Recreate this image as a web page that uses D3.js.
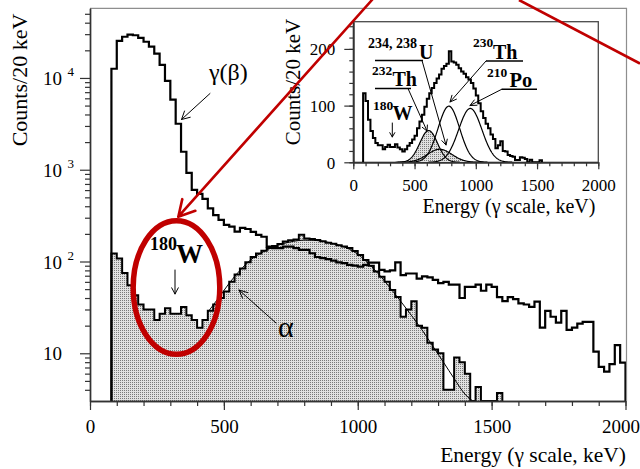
<!DOCTYPE html>
<html>
<head>
<meta charset="utf-8">
<script src="https://cdn.jsdelivr.net/npm/d3@7"></script>
<style>
  html, body { margin: 0; padding: 0; background: #fff; }
  svg { display: block; font-family: "Liberation Serif", "Times New Roman", serif; }
</style>
</head>
<body>
<svg id="chart" width="640" height="469"></svg>
<script>
// Spectra in 20 keV bins; lower bin edges start at 80 keV
const binWidth = 20;
const firstBin = 80;

// gamma(beta) events, counts per bin (80 ... 1980 keV)
const gammaCounts = [
  12600, 25400, 28100, 29600, 29200, 27400, 24800, 21900, 18400, 13900,
  9300, 5800, 3170, 1570, 925, 604, 546, 482, 380, 320,
  284, 251, 240, 212, 233, 226, 210, 195, 186, 145,
  140, 140, 145, 145, 140, 134, 134, 123, 112, 109,
  106, 102, 98, 96, 92, 90, 88, 92, 97, 97,
  81, 78, 80, 98, 71, 74, 74, 65, 69, 67,
  63, 58, 60, 56, 56, 40, 53, 53, 56, 48,
  56, 53, 41, 37, 41, 39, 35, 34, 32, 36.5,
  19, 29, 25, 21.6, 29, 18, 19, 21, 22, 22,
  10.4, 7.1, 6.3, 7.6, 12.3, 7.9
];

// alpha events, counts per bin (80 ... 1520 keV)
const alphaCounts = [
  122, 108, 75, 55, 43, 34, 30, 30, 23, 27,
  31, 27, 27, 32, 26, 23, 19, 23, 29, 34,
  40, 47, 60, 72, 84, 98, 112, 122, 131, 140,
  148, 155, 165, 170, 174, 196, 178, 176, 172, 166,
  160, 156, 150, 146, 140, 130, 118, 104, 90, 78,
  68, 60, 49, 41, 25, 30, 37, 20, 19, 13,
  11, 10, 4, 4, 9, 8, 6, 0, 4.3, 0,
  0, 0, 3.7
];

// fitted alpha spectrum shown on the log plot
const fitEnergy = [440, 480, 520, 560, 600, 640, 680, 720, 760, 800, 840, 880, 920,
                   960, 1000, 1040, 1080, 1120, 1160, 1200, 1240, 1280, 1320, 1360, 1400, 1430];
const fitCounts = [28, 40, 58, 80, 104, 124, 142, 156, 166, 171, 170, 164, 154,
                   140, 120, 95, 72, 52, 37, 26, 18, 12, 8, 5.3, 3.6, 2.9];

// alpha peak components of the inset fit
const componentCentre = [615, 705, 780, 955];   // keV
const componentHeight = [56, 23, 99, 95];       // counts/20 keV
const componentSigma  = [72, 100, 88, 95];      // keV
const componentShaded = [true, true, false, false];

// axis ticks
const mainXTicks = [0, 500, 1000, 1500, 2000];
const mainYTicks = [10, 100, 1000, 10000];
const mainYExponents = ["", "2", "3", "4"];
const insetXTicks = [0, 500, 1000, 1500, 2000];
const insetYTicks = [0, 100, 200];

const svg = d3.select("#chart");
const defs = svg.append("defs");
const pat = defs.append("pattern").attr("id", "stipple")
  .attr("width", 2).attr("height", 2).attr("patternUnits", "userSpaceOnUse");
pat.append("rect").attr("width", 2).attr("height", 2).attr("fill", "#e1e1e1");
pat.append("rect").attr("width", 1).attr("height", 1).attr("fill", "#7a7a7a");

// ---------- main (log) panel ----------
const x = d3.scaleLinear().domain([0, 2000]).range([90, 625.5]);
const yFloor = 3.02;
const y = d3.scaleLog().domain([yFloor, 57400]).range([401, 8.3]);
const yv = v => y(Math.max(v, yFloor));

function stepPoints(counts) {
  const pts = [[firstBin, 0]];
  counts.forEach((c, i) => pts.push([firstBin + i * binWidth, c]));
  const end = firstBin + counts.length * binWidth;
  pts.push([end, counts[counts.length - 1]]);
  pts.push([end, 0]);
  return pts;
}

const gammaPts = stepPoints(gammaCounts);
const alphaPts = stepPoints(alphaCounts);

const mainArea = d3.area().curve(d3.curveStepAfter)
  .x(d => x(d[0])).y0(y.range()[0]).y1(d => yv(d[1]));
const mainLine = d3.line().curve(d3.curveStepAfter)
  .x(d => x(d[0])).y(d => yv(d[1]));

svg.append("path").attr("d", mainArea(alphaPts)).attr("fill", "url(#stipple)");
svg.append("path").attr("d", mainLine(alphaPts))
  .attr("fill", "none").attr("stroke", "#000").attr("stroke-width", 2);

const fitLine = d3.line().curve(d3.curveMonotoneX)
  .x((d, i) => x(fitEnergy[i])).y((d, i) => yv(fitCounts[i]));
svg.append("path").attr("d", fitLine(fitEnergy))
  .attr("fill", "none").attr("stroke", "#000").attr("stroke-width", 1);

svg.append("path").attr("d", mainLine(gammaPts))
  .attr("fill", "none").attr("stroke", "#000").attr("stroke-width", 2.2);

// frame: light top/right edges
const [x0, x1] = x.range();
const [yb, yt] = y.range();
svg.append("path").attr("d", `M${x0},${yt}H${x1 + 1}V${yb}`)
  .attr("fill", "none").attr("stroke", "#8e8e8e").attr("stroke-width", 1.2);

// x axis
function styleAxis(g, color) {
  g.select(".domain").attr("stroke", color).attr("stroke-width", 1.4);
  g.selectAll(".tick line").attr("stroke", color).attr("stroke-width", 1.2);
}
const gxMinor = svg.append("g").attr("transform", `translate(0,${yb})`)
  .call(d3.axisBottom(x).tickValues(d3.range(0, 2001, 100)).tickSize(5).tickSizeOuter(0).tickFormat(""));
styleAxis(gxMinor, "#333");
const gx = svg.append("g").attr("transform", `translate(0,${yb})`)
  .call(d3.axisBottom(x).tickValues(mainXTicks).tickSize(9).tickSizeOuter(0).tickFormat(d3.format("d")));
styleAxis(gx, "#333");
gx.selectAll(".tick text").attr("y", 32).attr("dy", 0)
  .attr("font-size", 19).attr("fill", "#000").attr("font-family", "Liberation Serif");
// keep the last label inside the page edge
gx.selectAll(".tick text").filter(d => d === 2000)
  .attr("text-anchor", "end").attr("x", 639.5 - x(2000));

// y axis
const minorY = [];
for (let d = 0; d <= 4; d++) for (let k = 2; k <= 9; k++) {
  const v = k * Math.pow(10, d);
  if (v >= yFloor && v <= y.domain()[1]) minorY.push(v);
}
const gyMinor = svg.append("g").attr("transform", `translate(${x0},0)`)
  .call(d3.axisLeft(y).tickValues(minorY).tickSize(5).tickSizeOuter(0).tickFormat(""));
styleAxis(gyMinor, "#333");
const gy = svg.append("g").attr("transform", `translate(${x0},0)`)
  .call(d3.axisLeft(y).tickValues(mainYTicks).tickSize(10).tickSizeOuter(0).tickFormat(""));
styleAxis(gy, "#333");
mainYTicks.forEach((v, i) => {
  svg.append("text").attr("x", 62).attr("y", y(v) + 7).attr("text-anchor", "end")
    .attr("font-size", 19).text("10");
  if (mainYExponents[i]) {
    svg.append("text").attr("x", 67.5).attr("y", y(v) - 1.5)
      .attr("font-size", 13).text(mainYExponents[i]);
  }
});

svg.append("text").attr("transform", "translate(27,80) rotate(-90)")
  .attr("text-anchor", "middle").attr("font-size", 22).text("Counts/20 keV");
svg.append("text").attr("x", 626).attr("y", 461.5).attr("text-anchor", "end")
  .attr("font-size", 21.5).text("Energy (\u03B3 scale, keV)");

// annotation arrows
function arrow(g, ax, ay, bx, by, opt = {}) {
  const head = opt.head || 8, spread = (opt.spread || 25) * Math.PI / 180;
  const a = Math.atan2(ay - by, ax - bx);
  const p = d3.path();
  p.moveTo(ax, ay); p.lineTo(bx, by);
  p.moveTo(bx + head * Math.cos(a + spread), by + head * Math.sin(a + spread));
  p.lineTo(bx, by);
  p.lineTo(bx + head * Math.cos(a - spread), by + head * Math.sin(a - spread));
  g.append("path").attr("d", p.toString()).attr("fill", "none")
    .attr("stroke", opt.color || "#000").attr("stroke-width", opt.width || 1)
    .attr("stroke-linecap", "round").attr("stroke-linejoin", "round");
}

svg.append("text").attr("x", 209).attr("y", 80).attr("font-size", 24).text("\u03B3(\u03B2)");
arrow(svg, 210, 93.5, 181.5, 119.5, { head: 9, spread: 28 });

svg.append("text").attr("x", 150).attr("y", 250).attr("font-size", 18).attr("font-weight", "bold").text("180");
svg.append("text").attr("x", 176).attr("y", 263).attr("font-size", 27).attr("font-weight", "bold").text("W");
arrow(svg, 175, 270, 175, 294, { head: 7, spread: 28 });

svg.append("text").attr("x", 278).attr("y", 337).attr("font-size", 30).text("\u03B1");
arrow(svg, 276, 323, 239, 290, { head: 9, spread: 25 });

// ---------- inset (linear) panel ----------
const xi = d3.scaleLinear().domain([0, 2000]).range([353.3, 598.3]);
const yi = d3.scaleLinear().domain([0, 248]).range([162.3, 21.7]);
const [xi0, xi1] = xi.range();
const [yi0, yi1] = yi.range();
const inset = svg.append("g");

inset.append("rect").attr("x", xi0).attr("y", yi1).attr("width", xi1 - xi0).attr("height", yi0 - yi1)
  .attr("fill", "#fff").attr("stroke", "#4a4a4a").attr("stroke-width", 1.3);

function gaussPts(i) {
  const c = componentCentre[i], h = componentHeight[i], s = componentSigma[i];
  const pts = [];
  for (let e = c - 3.6 * s; e <= c + 3.6 * s; e += 4) pts.push([e, h * Math.exp(-0.5 * ((e - c) / s) ** 2)]);
  return pts;
}
const insetArea = d3.area().x(d => xi(d[0])).y0(yi0).y1(d => yi(d[1]));
const insetCurve = d3.line().x(d => xi(d[0])).y(d => yi(d[1]));
componentCentre.forEach((c, i) => {
  if (componentShaded[i]) inset.append("path").attr("d", insetArea(gaussPts(i))).attr("fill", "url(#stipple)");
});
componentCentre.forEach((c, i) => {
  inset.append("path").attr("d", insetCurve(gaussPts(i)))
    .attr("fill", "none").attr("stroke", "#000").attr("stroke-width", 1.2);
});

const insetStep = d3.line().curve(d3.curveStepAfter).x(d => xi(d[0])).y(d => yi(d[1]));
inset.append("path").attr("d", insetStep(alphaPts))
  .attr("fill", "none").attr("stroke", "#000").attr("stroke-width", 2);

const gxiMinor = inset.append("g").attr("transform", `translate(0,${yi0})`)
  .call(d3.axisBottom(xi).tickValues(d3.range(0, 2001, 100)).tickSize(4).tickSizeOuter(0).tickFormat(""));
styleAxis(gxiMinor, "#333");
const gxi = inset.append("g").attr("transform", `translate(0,${yi0})`)
  .call(d3.axisBottom(xi).tickValues(insetXTicks).tickSize(7).tickSizeOuter(0).tickFormat(d3.format("d")));
styleAxis(gxi, "#333");
gxi.selectAll(".tick text").attr("y", 28.5).attr("dy", 0)
  .attr("font-size", 17).attr("fill", "#000").attr("font-family", "Liberation Serif");

const gyiMinor = inset.append("g").attr("transform", `translate(${xi0},0)`)
  .call(d3.axisLeft(yi).tickValues(d3.range(0, 241, 20)).tickSize(4).tickSizeOuter(0).tickFormat(""));
styleAxis(gyiMinor, "#333");
const gyi = inset.append("g").attr("transform", `translate(${xi0},0)`)
  .call(d3.axisLeft(yi).tickValues(insetYTicks).tickSize(9).tickSizeOuter(0).tickFormat(d3.format("d")));
styleAxis(gyi, "#333");
gyi.selectAll(".tick text").attr("x", -18).attr("dy", 6)
  .attr("font-size", 17).attr("fill", "#000").attr("font-family", "Liberation Serif");

inset.append("text").attr("transform", "translate(300,82) rotate(-90)")
  .attr("text-anchor", "middle").attr("font-size", 21).text("Counts/20 keV");
inset.append("text").attr("x", 509).attr("y", 213).attr("text-anchor", "middle")
  .attr("font-size", 20).text("Energy (\u03B3 scale, keV)");

// isotope labels with underline leaders
function isotope(mass, sym, mx, my, sx, sy, fontSup, fontSym) {
  inset.append("text").attr("x", mx).attr("y", my).attr("font-size", fontSup).attr("font-weight", "bold").text(mass);
  inset.append("text").attr("x", sx).attr("y", sy).attr("font-size", fontSym).attr("font-weight", "bold").text(sym);
}
function underline(xa, xb, yy) {
  inset.append("line").attr("x1", xa).attr("x2", xb).attr("y1", yy).attr("y2", yy)
    .attr("stroke", "#000").attr("stroke-width", 1.5);
}
isotope("234, 238", "U", 368, 48, 419, 58.5, 14, 20);
underline(375, 423, 60.5);
arrow(inset, 422, 60.5, 446, 145, { head: 6, spread: 28 });

isotope("232", "Th", 372, 75, 392.5, 85.5, 13.5, 20);
underline(375, 411, 88.5);
arrow(inset, 408, 88.5, 427, 131, { head: 6, spread: 28 });

isotope("180", "W", 373, 110, 392.5, 120, 13.5, 20);
arrow(inset, 392.3, 123, 392.3, 137, { head: 5, spread: 30 });

isotope("230", "Th", 473, 47, 493, 58.5, 13.5, 20);
underline(486, 523, 61);
arrow(inset, 486, 61, 450, 102, { head: 7, spread: 25 });

isotope("210", "Po", 487, 77, 509.5, 86.5, 13.5, 20.5);
underline(501.7, 537, 89.3);
arrow(inset, 501.7, 89.3, 470, 105.5, { head: 7, spread: 25 });

// ---------- red call-out ----------
const red = "#c00000";
svg.append("ellipse").attr("cx", x(323)).attr("cy", y(52)).attr("rx", 43.3).attr("ry", 66.8)
  .attr("fill", "none").attr("stroke", red).attr("stroke-width", 5.5);
arrow(svg, 372, 0, 178.3, 216.7, { head: 18, spread: 29, color: red, width: 2.6 });
svg.append("line").attr("x1", 519).attr("y1", 0).attr("x2", 640).attr("y2", 63.5)
  .attr("stroke", red).attr("stroke-width", 2.6);
</script>
</body>
</html>
